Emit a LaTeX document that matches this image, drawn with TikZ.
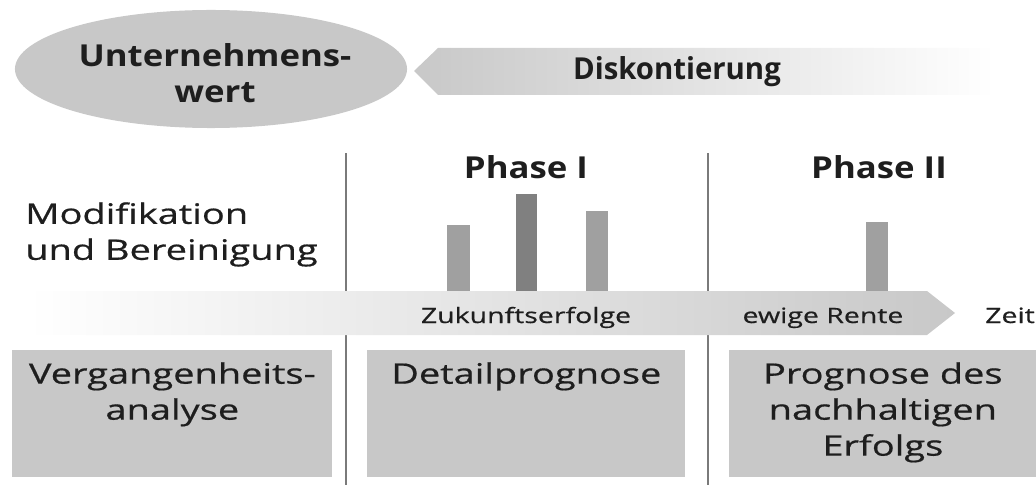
\documentclass[tikz,border=0pt]{standalone}
\usepackage{fontspec}
\setmainfont{Open Sans}[FakeStretch=1.35,FakeBold=0.6]
\newfontfamily\headfont{Open Sans}[FakeStretch=1.15]
\newfontfamily\discfont{Open Sans}[FakeStretch=0.97]
\usetikzlibrary{shapes.geometric,positioning}

\definecolor{boxgray}{HTML}{C8C8C8}
\definecolor{bargray}{HTML}{A0A0A0}
\definecolor{bardark}{HTML}{808080}
\definecolor{linegray}{HTML}{7A7A7A}
\definecolor{textdark}{HTML}{1E1E1E}

\tikzset{
  boxtext/.style={font=\fontsize{20}{25.6}\selectfont, text=textdark, align=center, anchor=north, inner sep=0pt},
  headtext/.style={font=\headfont\bfseries\fontsize{21.5}{25.6}\selectfont, text=textdark, align=center, inner sep=0pt},
  smalltext/.style={font=\fontsize{15}{18}\selectfont, text=textdark, inner sep=0pt, anchor=base},
  phasebox/.style={fill=boxgray, draw=none, inner sep=0pt, minimum height=3.175cm, anchor=north west},
  sepline/.style={draw=linegray, line width=2pt},
}

\begin{document}
\begin{tikzpicture}[x=0.025cm,y=-0.025cm]
    \useasboundingbox (0,0) rectangle (1036,485);
    % top: value and discounting
    \node[ellipse, fill=boxgray, minimum width=9.8cm, minimum height=2.95cm, inner sep=0pt] (wert) at (211,69) {};
    \node[headtext, anchor=north] (werttext) at (215,43) {Unternehmens-\\wert};
    \shade[left color=boxgray, right color=white] (414,71) -- (438,48) -- (995,48) -- (995,95) -- (438,95) -- cycle;
    \node[headtext, font=\discfont\bfseries\fontsize{21.5}{25.6}\selectfont] (diskont) at (677,72) {Diskontierung};

    % phases
    \draw[sepline] (346,153) -- (346,485);
    \draw[sepline] (708,153) -- (708,485);
    \node[headtext, anchor=base] (phase1) at (526,179) {Phase I};
    \node[headtext, anchor=base] (phase2) at (879,179) {Phase II};
    \node[boxtext, anchor=north west, align=left] (modif) at (25,202) {Modifikation\\und Bereinigung};

    % bars
    \fill[bargray] (447,225) rectangle (470,291);
    \fill[bardark] (516,194) rectangle (537,291);
    \fill[bargray] (586,211) rectangle (608,291);
    \fill[bargray] (866,222) rectangle (888,291);

    % time axis
    \shade[left color=white, right color=boxgray] (27,291) -- (927,291) -- (955,313) -- (927,335) -- (27,335) -- cycle;
    \node[smalltext] (zukunft) at (526,323) {Zukunftserfolge};
    \node[smalltext] (rente) at (823,323) {ewige Rente};
    \node[smalltext, anchor=base west] (zeit) at (985,323) {Zeit};

    % bottom boxes
    \node[phasebox, minimum width=8cm] (vergangen) at (12,350) {};
    \node[phasebox, minimum width=7.95cm] (detail) at (367,350) {};
    \node[phasebox, minimum width=7.675cm] (nachhaltig) at (729,350) {};
    \node[boxtext] at (vergangen.north) [yshift=-0.3cm] {Vergangenheits-\\analyse};
    \node[boxtext] at (detail.north) [yshift=-0.3cm] {Detailprognose};
    \node[boxtext] at (nachhaltig.north) [yshift=-0.3cm] {Prognose des\\nachhaltigen\\Erfolgs};
\end{tikzpicture}
\end{document}
